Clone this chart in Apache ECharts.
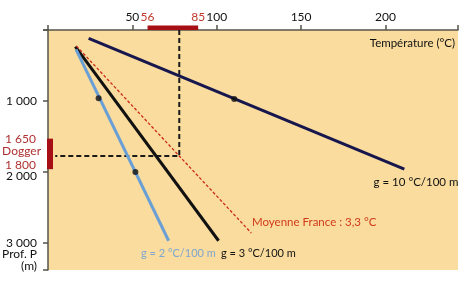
<!DOCTYPE html>
<html><head><meta charset="utf-8">
<script src="https://cdn.jsdelivr.net/npm/echarts@6/dist/echarts.min.js"></script>
<style>html,body{margin:0;padding:0;background:#fff}#c{width:474px;height:301px}</style>
</head><body><div id="c"></div>
<script>
// ---- data (temperature °C, depth m) ----
const tempTickLabels = {50:'50',100:'100',150:'150',200:'200'};
const depthTickLabels = {1000:'1 000',2000:'{low|2 000}',3000:'3 000'};
const g10 = [[24.1,117],[211.2,1958]];
const g10Dots = [[110.4,972]];
const g3 = [[16.2,235],[101.1,2968]];
const g2 = [[16.6,272],[71.5,2968]];
const g2Dots = [[30.0,962],[51.8,2000]];
const moyenne = [[16.8,225],[120.5,2859]];
const guide = [[77.8,0],[77.8,1775],[4.3,1775]];
const doggerTempRange = [59, 89];
const doggerTempLabels = ['56','85'];
const doggerDepthRange = [1530, 1960];
const doggerDepthLabels = ['1 650','Dogger','1 800'];

const FONT = 'Lato';
const RED = '#a50f15';
const chart = echarts.init(document.getElementById('c'), null, {renderer:'canvas'});
const axisCol = '#55544a';
chart.setOption({
  animation:false,
  grid:{left:48, top:30, right:16, bottom:31, show:true, backgroundColor:'#f9dc9e', borderWidth:0},
  xAxis:{type:'value', position:'top', min:0, max:243, interval:50,
    axisLine:{show:true, lineStyle:{color:axisCol, width:1.5}},
    axisTick:{show:true, length:5, lineStyle:{color:axisCol, width:1.5}},
    axisLabel:{margin:7, fontFamily:FONT, fontSize:12, color:'#111', formatter:v=>tempTickLabels[v]||''},
    splitLine:{show:false}},
  yAxis:{type:'value', inverse:true, min:0, max:3380, interval:1000,
    axisLine:{show:true, lineStyle:{color:axisCol, width:1.5}},
    axisTick:{show:true, length:5, lineStyle:{color:axisCol, width:1.5}},
    axisLabel:{margin:11, fontFamily:FONT, fontSize:12, color:'#111', formatter:v=>depthTickLabels[v]||'',
      rich:{low:{fontFamily:FONT, fontSize:12, color:'#111', padding:[8,0,0,0]}}},
    splitLine:{show:false}},
  series:[
    {type:'line', data:guide, symbol:'none', lineStyle:{color:'#1a1a1a', width:2, type:[5,3]}, z:2},
    {type:'line', data:g10, symbol:'none', lineStyle:{color:'#17174d', width:3}, z:3},
    {type:'scatter', data:g10Dots, symbol:'circle', symbolSize:6, itemStyle:{color:'#111'}, z:6},
    {type:'line', data:g3, symbol:'none', lineStyle:{color:'#111', width:3}, z:3},
    {type:'line', data:g2, symbol:'none', lineStyle:{color:'#6a9fd6', width:3}, z:3},
    {type:'scatter', data:g2Dots, symbol:'circle', symbolSize:6, itemStyle:{color:'#111'}, z:6},
    {type:'line', data:moyenne, symbol:'none', lineStyle:{color:'#cc2a1a', width:1.3, type:[3,2]}, z:4}
  ]
});

const p = v => chart.convertToPixel({gridIndex:0}, v);
const t0 = p([doggerTempRange[0],0]), t1 = p([doggerTempRange[1],0]);
const d0 = p([0,doggerDepthRange[0]]), d1 = p([0,doggerDepthRange[1]]);
const txt = (text, x, y, align, color, size) => ({type:'text', z:100, style:{text, x, y, align, verticalAlign:'middle', fill:color, font:`${size||11}px ${FONT}`}});
chart.setOption({graphic:[
  {type:'rect', z:50, shape:{x:t0[0], y:t0[1]-4.5, width:t1[0]-t0[0], height:4.5}, style:{fill:RED}},
  {type:'rect', z:50, shape:{x:d0[0]-1, y:d0[1], width:6, height:d1[1]-d0[1]}, style:{fill:RED}},
  {type:'line', z:50, shape:{x1:43, y1:t0[1], x2:48, y2:t0[1]}, style:{stroke:axisCol, lineWidth:1.5}},
  txt(doggerTempLabels[0], t0[0], 17, 'center', '#c0392b', 12),
  txt(doggerTempLabels[1], t1[0], 17, 'center', '#c0392b', 12),
  txt(doggerDepthLabels[0], 36, d0[1], 'right', '#b03030', 12),
  txt(doggerDepthLabels[1], 41, 151, 'right', '#b03030', 12),
  txt(doggerDepthLabels[2], 36, 165, 'right', '#b03030', 12),
  txt('Prof. P', 37, 254, 'right', '#111', 12),
  txt('(m)', 37, 266, 'right', '#111', 12),
  txt('Température (°C)', 455, 43, 'right', '#111', 11.5),
  txt('g = 10 °C/100 m', 416, 182, 'center', '#111', 11.5),
  txt('Moyenne France : 3,3 °C', 252, 222, 'left', '#d03a1a', 11.5),
  txt('g = 2 °C/100 m', 141, 253, 'left', '#7fa6cf', 11),
  txt('g = 3 °C/100 m', 221, 253, 'left', '#111', 11)
]});
</script></body></html>
